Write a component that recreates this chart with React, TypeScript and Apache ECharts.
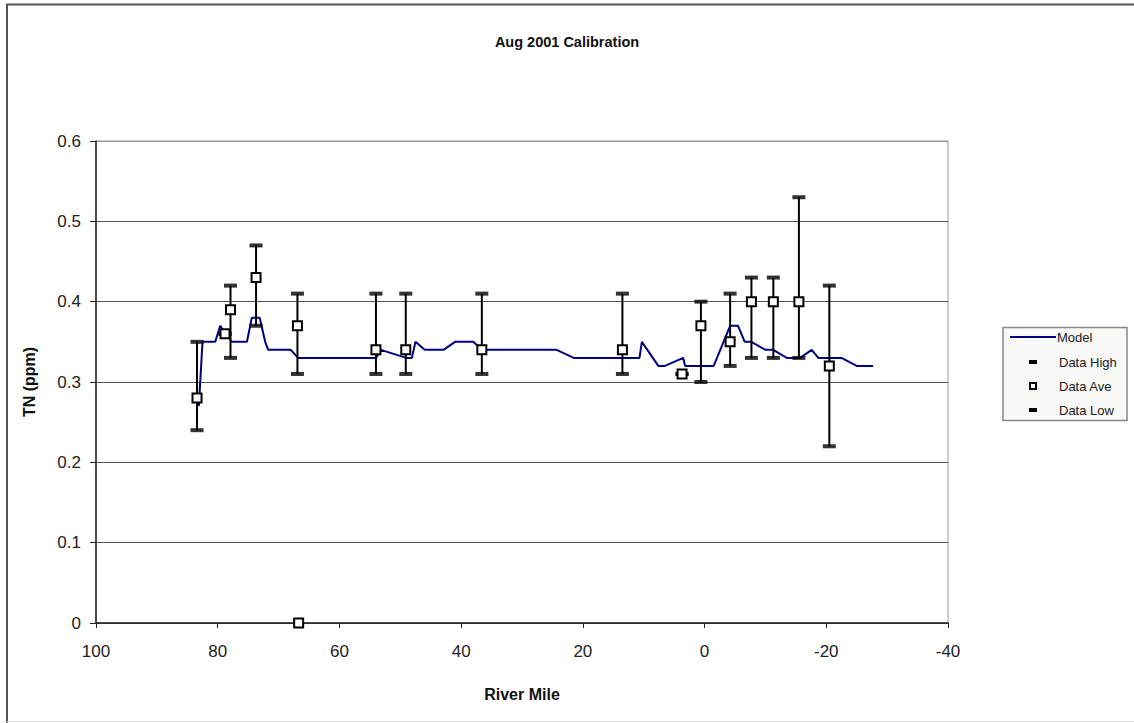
import React, { useEffect, useRef } from "react";
import * as echarts from "echarts";

const TITLE = "Aug 2001 Calibration";
const X_TITLE = "River Mile";
const Y_TITLE = "TN (ppm)";
const LEGEND_NAMES = ["Model", "Data High", "Data Ave", "Data Low"];

const modelMiles = [
  83.1, 82.5, 80.4, 79.6, 77.7, 75.2, 74.4, 73.1, 72.2, 71.7, 68.0, 66.8, 54.0, 53.2, 49.0, 48.1,
  47.5, 46.0, 42.9, 41.0, 38.0, 36.6, 24.3, 21.5, 10.7, 10.3, 7.6, 6.5, 3.5, 3.2, -1.5, -4.2,
  -5.5, -6.6, -7.7, -10.0, -11.3, -13.5, -15.7, -17.6, -18.7, -22.5, -25.0, -27.7,
];
const modelValues = [
  0.27, 0.35, 0.35, 0.37, 0.35, 0.35, 0.38, 0.38, 0.35, 0.34, 0.34, 0.33, 0.33, 0.34, 0.33, 0.33,
  0.35, 0.34, 0.34, 0.35, 0.35, 0.34, 0.34, 0.33, 0.33, 0.35, 0.32, 0.32, 0.33, 0.32, 0.32, 0.37,
  0.37, 0.35, 0.35, 0.34, 0.34, 0.33, 0.33, 0.34, 0.33, 0.33, 0.32, 0.32,
];

const dataMiles = [83.4, 78.8, 77.9, 73.7, 66.9, 66.7, 54.0, 49.1, 36.6, 13.5, 3.7, 0.6, -4.2, -7.7, -11.3, -15.5, -20.5];
const dataHigh = [0.35, 0.36, 0.42, 0.47, 0.41, null, 0.41, 0.41, 0.41, 0.41, 0.31, 0.4, 0.41, 0.43, 0.43, 0.53, 0.42];
const dataAve = [0.28, 0.36, 0.39, 0.43, 0.37, 0, 0.34, 0.34, 0.34, 0.34, 0.31, 0.37, 0.35, 0.4, 0.4, 0.4, 0.32];
const dataLow = [0.24, 0.36, 0.33, 0.37, 0.31, null, 0.31, 0.31, 0.31, 0.31, 0.31, 0.3, 0.32, 0.33, 0.33, 0.33, 0.22];

const FONT = "'Liberation Sans', Arial, sans-serif";

export default function App() {
  const ref = useRef<HTMLDivElement>(null);

  useEffect(() => {
    if (!ref.current) return;
    const chart = echarts.init(ref.current, null, { renderer: "svg" });

    const modelData = modelMiles.map((m, i) => [m, modelValues[i]]);
    const highData = dataMiles.map((m, i) => [m, dataHigh[i]]).filter((d) => d[1] !== null);
    const lowData = dataMiles.map((m, i) => [m, dataLow[i]]).filter((d) => d[1] !== null);
    const aveData = dataMiles.map((m, i) => [m, dataAve[i]]);
    const barData = dataMiles
      .map((m, i) => [m, dataLow[i], dataHigh[i]])
      .filter((d) => d[1] !== null && d[2] !== null);

    const lx = 1003;
    const rowY = [337, 362, 386, 410];

    const option: any = {
      animation: false,
      backgroundColor: "#fff",
      title: {
        text: TITLE,
        left: "center",
        top: 29,
        textStyle: { fontFamily: FONT, fontSize: 14.5, fontWeight: "bold", color: "#111" },
      },
      legend: { show: false },
      grid: {
        left: 96,
        top: 141,
        width: 852,
        height: 482,
        show: true,
        borderColor: "#999",
        borderWidth: 1,
        backgroundColor: "transparent",
      },
      xAxis: {
        type: "value",
        min: -40,
        max: 100,
        interval: 20,
        inverse: true,
        name: X_TITLE,
        nameLocation: "middle",
        nameGap: 63,
        nameTextStyle: { fontFamily: FONT, fontSize: 16, fontWeight: "bold", color: "#111" },
        axisLine: { show: true, onZero: false, lineStyle: { color: "#222", width: 1.5 } },
        axisTick: { show: true, inside: false, length: 5, lineStyle: { color: "#222" } },
        axisLabel: { fontFamily: FONT, fontSize: 17, color: "#222", margin: 20 },
        splitLine: { show: false },
      },
      yAxis: {
        type: "value",
        position: "left",
        min: 0,
        max: 0.6,
        interval: 0.1,
        name: Y_TITLE,
        nameLocation: "middle",
        nameGap: 59,
        nameTextStyle: { fontFamily: FONT, fontSize: 16, fontWeight: "bold", color: "#111" },
        axisLine: { show: true, onZero: false, lineStyle: { color: "#222", width: 1.5 } },
        axisTick: { show: true, inside: false, length: 6, lineStyle: { color: "#222" } },
        axisLabel: {
          fontFamily: FONT,
          fontSize: 17,
          color: "#222",
          margin: 15,
          formatter: (v: number) => (v === 0 ? "0" : v.toFixed(1)),
        },
        splitLine: {
          show: true,
          lineStyle: { color: ["#555", "#555", "#555", "#555", "#555", "#555", "#999"], width: 1 },
        },
      },
      series: [
        {
          name: "Model",
          type: "line",
          data: modelData,
          showSymbol: false,
          symbol: "none",
          lineStyle: { color: "#000080", width: 2 },
          z: 2,
        },
        {
          name: "Error",
          type: "custom",
          data: barData,
          z: 3,
          renderItem: (params: any, api: any) => {
            const x = api.value(0);
            const p1 = api.coord([x, api.value(1)]);
            const p2 = api.coord([x, api.value(2)]);
            return {
              type: "line",
              shape: { x1: p1[0], y1: p1[1], x2: p2[0], y2: p2[1] },
              style: { stroke: "#000", lineWidth: 2 },
            };
          },
        },
        {
          name: "Data High",
          type: "scatter",
          data: highData,
          symbol: "rect",
          symbolSize: [13, 4],
          itemStyle: { color: "#000" },
          z: 4,
        },
        {
          name: "Data Low",
          type: "scatter",
          data: lowData,
          symbol: "rect",
          symbolSize: [13, 4],
          itemStyle: { color: "#000" },
          z: 4,
        },
        {
          name: "Data Ave",
          type: "scatter",
          data: aveData,
          symbol: "rect",
          symbolSize: 9,
          itemStyle: { color: "#ffffff", borderColor: "#000", borderWidth: 2, opacity: 1 },
          z: 5,
        },
      ],
      graphic: [
        {
          type: "polyline",
          shape: { points: [[7, 723], [7, 4.5], [1134, 4.5]] },
          style: { stroke: "#555", lineWidth: 2, fill: null },
          silent: true,
        },
        {
          type: "line",
          shape: { x1: 7, y1: 721.5, x2: 1134, y2: 721.5 },
          style: { stroke: "#ddd", lineWidth: 1 },
          silent: true,
        },
        {
          type: "rect",
          shape: { x: lx, y: 327.5, width: 124, height: 93 },
          style: { fill: "#f8f8f6", stroke: "#888", lineWidth: 1.5 },
          silent: true,
        },
        {
          type: "line",
          shape: { x1: 1010, y1: rowY[0], x2: 1056, y2: rowY[0] },
          style: { stroke: "#000080", lineWidth: 2 },
          silent: true,
        },
        {
          type: "rect",
          shape: { x: 1029, y: rowY[1] - 2, width: 8, height: 4 },
          style: { fill: "#000" },
          silent: true,
        },
        {
          type: "rect",
          shape: { x: 1030, y: rowY[2] - 3, width: 6, height: 6 },
          style: { fill: "#fff", stroke: "#000", lineWidth: 2 },
          silent: true,
        },
        {
          type: "rect",
          shape: { x: 1029, y: rowY[3] - 2, width: 8, height: 4 },
          style: { fill: "#000" },
          silent: true,
        },
        ...LEGEND_NAMES.map((name, i) => ({
          type: "text",
          x: i === 0 ? 1057 : 1059,
          y: rowY[i],
          style: {
            text: name,
            fill: "#222",
            font: `13px ${FONT}`,
            textVerticalAlign: "middle",
            verticalAlign: "middle",
          },
          silent: true,
        })),
      ],
    };

    chart.setOption(option);
    return () => chart.dispose();
  }, []);

  return (
    <div
      ref={ref}
      style={{ position: "fixed", left: 0, top: 0, width: 1134, height: 723, background: "#fff" }}
    />
  );
}
